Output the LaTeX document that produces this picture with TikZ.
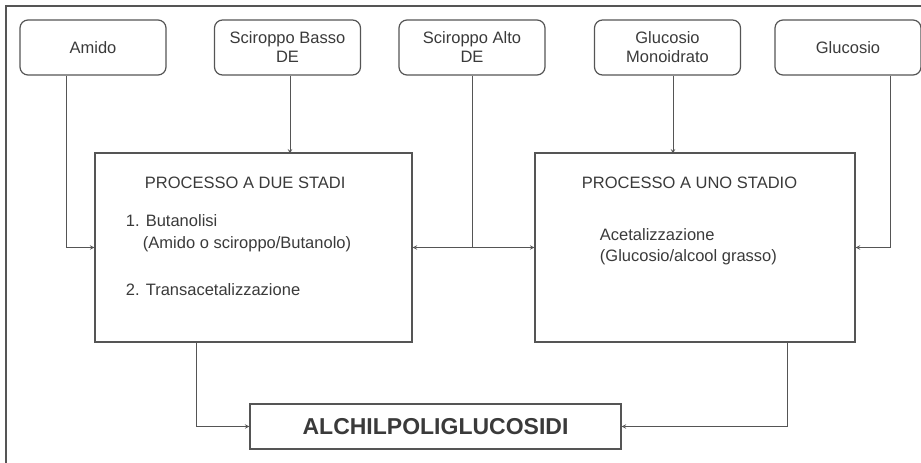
\documentclass[tikz,border=0pt]{standalone}
\usepackage{fontspec}
\setmainfont{Liberation Sans}
\usetikzlibrary{positioning}

\definecolor{linegray}{HTML}{555555}
\definecolor{textgray}{HTML}{3A3A3A}

\begin{document}
\begin{tikzpicture}[x=1pt, y=-1pt, >=stealth,
  every node/.style={font=\fontsize{16.5}{19}\selectfont, text=textgray},
  source/.style={draw=linegray, line width=1.2pt, rounded corners=8pt, minimum width=146pt, minimum height=55pt, align=center, inner sep=1pt},
  procbox/.style={draw=linegray, line width=1.2pt, minimum height=189pt},
  flow/.style={->, draw=linegray, line width=1pt}]
\useasboundingbox (0,0) rectangle (921,463);
\draw[draw=linegray, line width=1.8pt] (6,463) -- (6,6) -- (921,6);

% materie prime
\node[source] (amido) at (93,47.5) {Amido};
\node[source] (basso) at (287.5,47.5) {Sciroppo Basso\\DE};
\node[source] (alto) at (472,47.5) {Sciroppo Alto\\DE};
\node[source] (mono) at (667.5,47.5) {Glucosio\\Monoidrato};
\node[source] (gluc) at (848,47.5) {Glucosio};

% processi
\node[procbox, minimum width=317pt] (due) at (253.5,247.5) {};
\node[procbox, minimum width=320pt] (uno) at (695,247.5) {};
\node[anchor=west] (dueT) at ([xshift=47pt,yshift=-30pt]due.north west) {PROCESSO A DUE STADI};
\node[anchor=west, align=left, font=\fontsize{16.5}{22}\selectfont] (stepone) at ([xshift=28pt,yshift=-81pt]due.north west) {1. Butanolisi\\\hspace*{17pt}(Amido o sciroppo/Butanolo)};
\node[anchor=west] (steptwo) at ([xshift=28pt,yshift=-137pt]due.north west) {2. Transacetalizzazione};
\node[anchor=west] (unoT) at ([xshift=44pt,yshift=-30pt]uno.north west) {PROCESSO A UNO STADIO};
\node[anchor=west, align=left, font=\fontsize{16.5}{21}\selectfont] (acet) at ([xshift=62pt,yshift=-94.5pt]uno.north west) {Acetalizzazione\\(Glucosio/alcool grasso)};

% prodotto
\node[draw=linegray, line width=1.2pt, minimum width=371pt, minimum height=45pt, font=\fontsize{23}{26}\selectfont\bfseries] (apg) at (435.5,426.5) {ALCHILPOLIGLUCOSIDI};

\draw[flow] (amido.south) ++(-27pt,0) |- (due.west);
\draw[flow] (basso.south) ++(2.5pt,0) -- ++(0,-78pt);
\draw[draw=linegray, line width=1pt] (alto.south) -- (alto.south |- due.east) coordinate (split);
\draw[flow] (split) -- (due.east);
\draw[flow] (split) -- (uno.west);
\draw[flow] (mono.south) ++(5.5pt,0) -- ++(0,-78pt);
\draw[flow] (gluc.south) ++(42pt,0) |- (uno.east);
\draw[flow] (due.south) ++(-57pt,0) |- (apg.west);
\draw[flow] (uno.south) ++(92pt,0) |- (apg.east);
\end{tikzpicture}
\end{document}
